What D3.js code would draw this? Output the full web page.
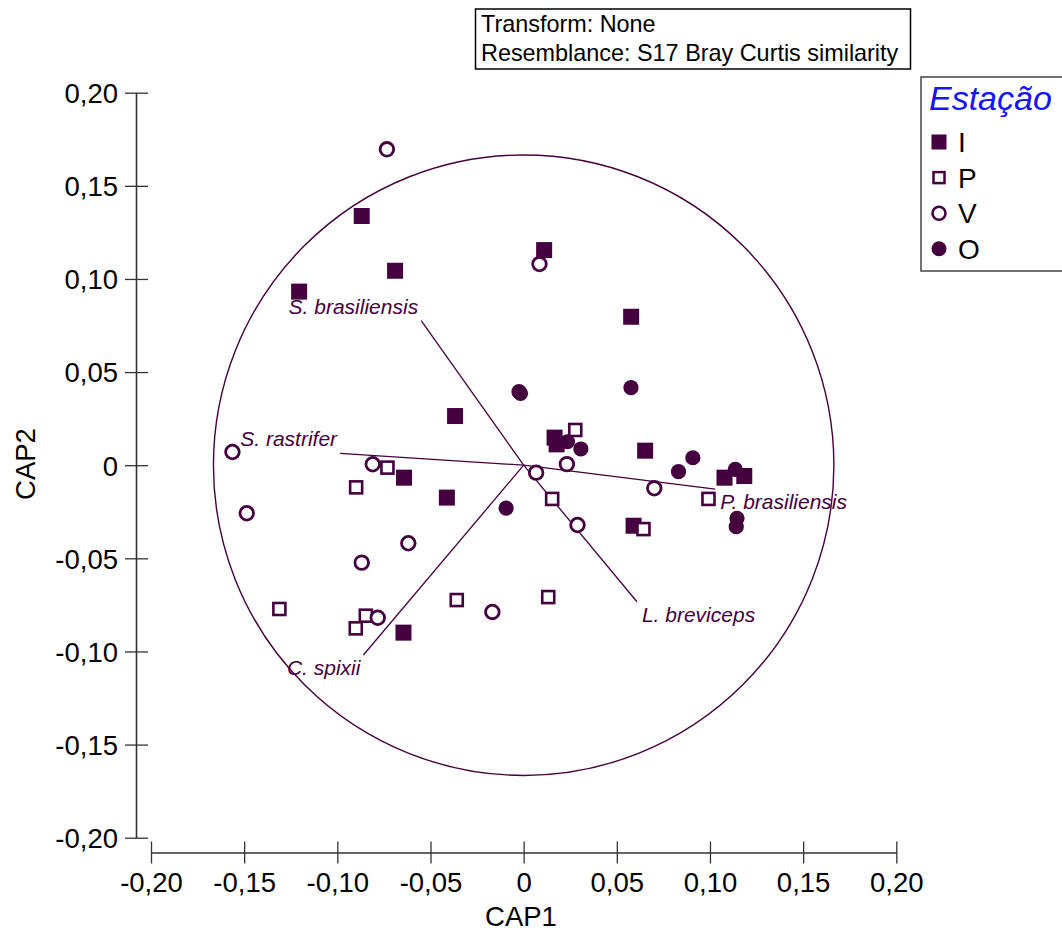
<!DOCTYPE html>
<html><head><meta charset="utf-8">
<script src="https://cdn.jsdelivr.net/npm/d3@7"></script>
<style>
html,body{margin:0;padding:0;background:#fff;}
svg{display:block;font-family:"Liberation Sans",Arial,sans-serif;}
</style></head>
<body><svg id="c" width="1062" height="931"></svg>
<script>
// ---- data ----
const tickValues = [-0.20,-0.15,-0.10,-0.05,0,0.05,0.10,0.15,0.20];
const groups = ["I","P","V","O"];
const legendTitle = "Estação";
const xTitle = "CAP1", yTitle = "CAP2";
const infoLines = ["Transform: None","Resemblance: S17 Bray Curtis similarity"];

const I_x = [-0.0869,-0.0690,-0.1205,0.0110,0.0577,-0.0368,0.0166,0.0177,0.0652,0.1078,0.1184,0.0590,-0.0642,-0.0412,-0.0645];
const I_y = [0.1338,0.1044,0.0932,0.1155,0.0797,0.0264,0.0148,0.0112,0.0078,-0.0067,-0.0058,-0.0325,-0.0067,-0.0174,-0.0899];

const P_x = [0.0277,0.0153,0.0643,0.0992,-0.0731,-0.0899,-0.1311,-0.0359,0.0132,-0.0847,-0.0901];
const P_y = [0.0189,-0.0181,-0.0343,-0.0181,-0.0013,-0.0119,-0.0772,-0.0724,-0.0708,-0.0808,-0.0876];

const V_x = [-0.0734,0.0085,-0.1563,0.0232,0.0067,0.0701,0.0289,-0.0810,-0.1486,-0.0619,-0.0869,-0.0168,-0.0783];
const V_y = [0.1696,0.1080,0.0071,0.0006,-0.0040,-0.0124,-0.0321,0.0005,-0.0258,-0.0419,-0.0523,-0.0788,-0.0819];

const O_x = [-0.0025,-0.0017,0.0576,-0.0366,0.0235,0.0307,0.0831,0.0908,0.1136,0.1145,0.1141,-0.0094];
const O_y = [0.0395,0.0386,0.0416,0.0266,0.0126,0.0087,-0.0035,0.0040,-0.0022,-0.0285,-0.0330,-0.0231];

const species = ["S. brasiliensis","S. rastrifer","C. spixii","P. brasiliensis","L. breviceps"];
const vecX = [-0.0550,-0.0985,-0.0860,0.1028,0.0608];
const vecY = [0.0776,0.0064,-0.1019,-0.0128,-0.0733];
const circleRadius = 0.1665;

// ---- drawing ----
const col = "#450040";
const svg = d3.select("#c");
const x = d3.scaleLinear().domain([-0.2,0.2]).range([151,896.3]);
const y = d3.scaleLinear().domain([-0.2,0.2]).range([837.7,92.7]);
const fmt = d => d===0 ? "0" : d3.format(".2f")(d).replace("−","-").replace(".",",");

// x axis
const gx = svg.append("g").attr("transform","translate(0,852.5)")
  .call(d3.axisBottom(x).tickValues(tickValues).tickFormat(fmt).tickSize(11).tickSizeOuter(0));
gx.select(".domain").attr("stroke","#333").attr("stroke-width",1.6);
gx.selectAll(".tick line").attr("y1",-11).attr("y2",11).attr("stroke","#333").attr("stroke-width",1.3);
gx.selectAll(".tick text").attr("y",0).attr("dy","39px").attr("font-size",27.5)
  .attr("font-family","Liberation Sans, Arial, sans-serif").attr("fill","#000");

// y axis
const gy = svg.append("g").attr("transform","translate(136,0)")
  .call(d3.axisLeft(y).tickValues(tickValues).tickFormat(fmt).tickSize(11).tickSizeOuter(0));
gy.select(".domain").attr("stroke","#333").attr("stroke-width",1.6);
gy.selectAll(".tick line").attr("x1",-11).attr("x2",12).attr("stroke","#333").attr("stroke-width",1.3);
gy.selectAll(".tick text").attr("x",-18).attr("dy","0.36em").attr("font-size",27.5)
  .attr("font-family","Liberation Sans, Arial, sans-serif").attr("fill","#000");

// axis titles
svg.append("text").attr("x",521).attr("y",926).attr("text-anchor","middle")
  .attr("font-size",27.5).text(xTitle);
svg.append("text").attr("transform","translate(35,464) rotate(-90)").attr("text-anchor","middle")
  .attr("font-size",27.5).text(yTitle);

// correlation circle
const rpx = x(circleRadius) - x(0);
svg.append("circle").attr("cx",x(0)).attr("cy",y(0)).attr("r",rpx)
  .attr("fill","none").attr("stroke",col).attr("stroke-width",1.4);

// vectors
const vecs = species.map((s,i)=>({s, vx:vecX[i], vy:vecY[i]}));
svg.append("g").selectAll("line").data(vecs).join("line")
  .attr("x1",x(0)).attr("y1",y(0)).attr("x2",d=>x(d.vx)).attr("y2",d=>y(d.vy))
  .attr("stroke",col).attr("stroke-width",1.3);
svg.append("g").selectAll("text").data(vecs).join("text")
  .attr("x",d=>x(d.vx) + (d.vx<0 ? -3 : 5))
  .attr("y",d=>y(d.vy) + (d.vy>0 ? -7 : 20))
  .attr("text-anchor",d=>d.vx<0 ? "end":"start")
  .attr("font-size",21).attr("font-style","italic").attr("fill",col)
  .text(d=>d.s);

// points
const toPts = (xs,ys)=>xs.map((v,i)=>({x:v,y:ys[i]}));
const gp = svg.append("g");
gp.selectAll("rect.i").data(toPts(I_x,I_y)).join("rect").attr("class","i")
  .attr("x",d=>x(d.x)-8).attr("y",d=>y(d.y)-8).attr("width",16).attr("height",16).attr("fill",col);
gp.selectAll("circle.o").data(toPts(O_x,O_y)).join("circle").attr("class","o")
  .attr("cx",d=>x(d.x)).attr("cy",d=>y(d.y)).attr("r",7.6).attr("fill",col);
gp.selectAll("rect.p").data(toPts(P_x,P_y)).join("rect").attr("class","p")
  .attr("x",d=>x(d.x)-6).attr("y",d=>y(d.y)-6).attr("width",12).attr("height",12)
  .attr("fill","#fff").attr("stroke",col).attr("stroke-width",2.6);
gp.selectAll("circle.v").data(toPts(V_x,V_y)).join("circle").attr("class","v")
  .attr("cx",d=>x(d.x)).attr("cy",d=>y(d.y)).attr("r",6.8)
  .attr("fill","#fff").attr("stroke",col).attr("stroke-width",2.8);

// info box
svg.append("rect").attr("x",475.5).attr("y",9).attr("width",435).attr("height",60)
  .attr("fill","#fff").attr("stroke","#000").attr("stroke-width",1.5);
svg.append("g").selectAll("text").data(infoLines).join("text")
  .attr("x",481).attr("y",(d,i)=>31.5+i*29.5).attr("font-size",23.4).attr("fill","#000").text(d=>d);

// legend
svg.append("rect").attr("x",921).attr("y",77).attr("width",160).attr("height",194)
  .attr("fill","#fff").attr("stroke","#444").attr("stroke-width",1.5);
svg.append("text").attr("x",929).attr("y",110).attr("font-size",34).attr("font-style","italic")
  .attr("fill","#1414ff").text(legendTitle);
const lg = svg.append("g").selectAll("g").data(groups).join("g")
  .attr("transform",(d,i)=>`translate(939,${142+i*35.6})`);
lg.each(function(d){
  const g = d3.select(this);
  if(d==="I") g.append("rect").attr("x",-7.5).attr("y",-7.5).attr("width",15).attr("height",15).attr("fill",col);
  if(d==="P") g.append("rect").attr("x",-5.5).attr("y",-5.5).attr("width",11).attr("height",11).attr("fill","#fff").attr("stroke",col).attr("stroke-width",2.5);
  if(d==="V") g.append("circle").attr("r",6.5).attr("fill","#fff").attr("stroke",col).attr("stroke-width",2.6);
  if(d==="O") g.append("circle").attr("r",7.5).attr("fill",col);
});
lg.append("text").attr("x",19).attr("y",10).attr("font-size",28).attr("fill","#000").text(d=>d);
</script>
</body></html>
